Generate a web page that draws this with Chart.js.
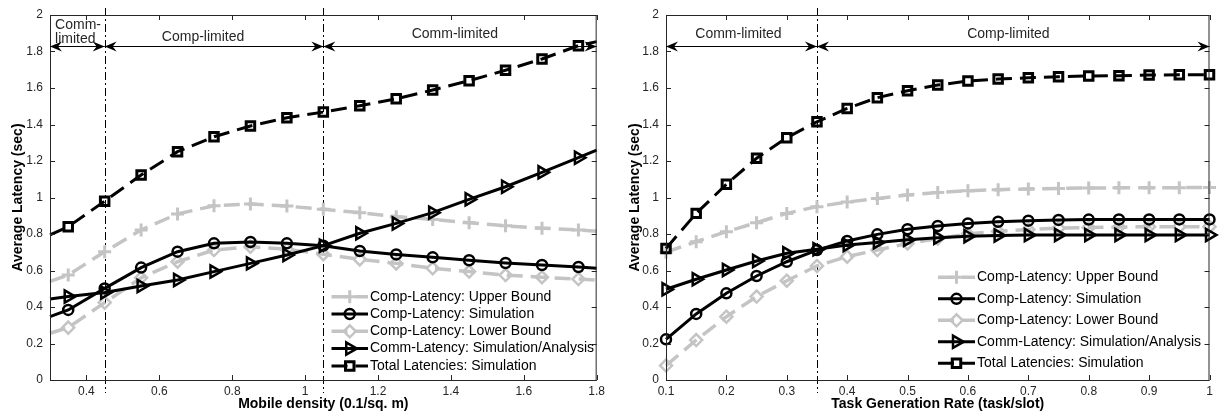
<!DOCTYPE html>
<html>
<head>
<meta charset="utf-8">
<script src="https://cdn.jsdelivr.net/npm/chart.js@4.4.1/dist/chart.umd.min.js"></script>
<style>
html, body { margin: 0; padding: 0; background: #fff; }
#wrap { position: relative; width: 1219px; height: 415px; }
canvas { position: absolute; top: 0; }
</style>
</head>
<body>
<div id="wrap">
  <canvas id="left" width="609" height="415" style="left:0"></canvas>
  <canvas id="right" width="610" height="415" style="left:609px"></canvas>
</div>
<script>
// ---- data ----
const seriesNames = ['Comp-Latency: Upper Bound', 'Comp-Latency: Simulation', 'Comp-Latency: Lower Bound',
                     'Comm-Latency: Simulation/Analysis', 'Total Latencies: Simulation'];
const yTicks = [0, 0.2, 0.4, 0.6, 0.8, 1, 1.2, 1.4, 1.6, 1.8, 2];

// left panel: mobile density
const densityX = [0.3, 0.35, 0.45, 0.55, 0.65, 0.75, 0.85, 0.95, 1.05, 1.15, 1.25, 1.35, 1.45, 1.55, 1.65, 1.75, 1.8];
const densityTicks = [0.4, 0.6, 0.8, 1, 1.2, 1.4, 1.6, 1.8];
const densUpper = [0.54, 0.575, 0.703, 0.822, 0.91, 0.955, 0.964, 0.953, 0.935, 0.917, 0.895, 0.88, 0.862, 0.845, 0.832, 0.822, 0.815];
const densSim   = [0.347, 0.384, 0.502, 0.616, 0.703, 0.749, 0.756, 0.749, 0.736, 0.707, 0.688, 0.672, 0.656, 0.641, 0.63, 0.619, 0.612];
const densLower = [0.256, 0.287, 0.424, 0.56, 0.648, 0.712, 0.73, 0.717, 0.689, 0.661, 0.639, 0.612, 0.594, 0.575, 0.563, 0.553, 0.548];
const densComm  = [0.444, 0.457, 0.48, 0.515, 0.548, 0.594, 0.639, 0.685, 0.736, 0.804, 0.858, 0.917, 0.99, 1.059, 1.138, 1.218, 1.26];
const densTotal = [0.795, 0.84, 0.98, 1.123, 1.251, 1.333, 1.392, 1.437, 1.468, 1.503, 1.541, 1.589, 1.64, 1.697, 1.759, 1.832, 1.854];
const densBounds = [0.45, 1.05];

// right panel: task generation rate
const rateX = [0.1, 0.15, 0.2, 0.25, 0.3, 0.35, 0.4, 0.45, 0.5, 0.55, 0.6, 0.65, 0.7, 0.75, 0.8, 0.85, 0.9, 0.95, 1];
const rateTicks = [0.1, 0.2, 0.3, 0.4, 0.5, 0.6, 0.7, 0.8, 0.9, 1];
const rateUpper = [0.70, 0.758, 0.813, 0.862, 0.913, 0.95, 0.975, 0.995, 1.014, 1.028, 1.037, 1.043, 1.047, 1.05, 1.052, 1.053, 1.054, 1.054, 1.055];
const rateSim   = [0.223, 0.362, 0.475, 0.57, 0.648, 0.712, 0.762, 0.798, 0.826, 0.844, 0.858, 0.867, 0.873, 0.877, 0.879, 0.88, 0.88, 0.88, 0.88];
const rateLower = [0.079, 0.219, 0.347, 0.457, 0.544, 0.625, 0.676, 0.712, 0.748, 0.775, 0.80, 0.815, 0.825, 0.832, 0.836, 0.838, 0.84, 0.84, 0.84];
const rateComm  = [0.497, 0.552, 0.603, 0.652, 0.694, 0.716, 0.74, 0.754, 0.768, 0.78, 0.788, 0.792, 0.794, 0.795, 0.795, 0.795, 0.795, 0.795, 0.795];
const rateTotal = [0.721, 0.913, 1.072, 1.215, 1.328, 1.415, 1.488, 1.547, 1.585, 1.616, 1.638, 1.649, 1.656, 1.662, 1.666, 1.667, 1.671, 1.672, 1.673];
const rateBounds = [0.35];

// ---- look ----
const FONT = "'Liberation Sans', Arial, Helvetica, sans-serif";
const INK = '#262626';
const GRAY = '#c4c4c4';
Chart.defaults.font.family = FONT;
Chart.defaults.color = INK;

const looks = [
  { color: GRAY,   dash: [16, 8], marker: 'cross',    rot: 0,  r: 6.5, w: 3.5, mw: 3,   order: 10 },
  { color: '#000', dash: [],      marker: 'circle',   rot: 0,  r: 5,   w: 3,   mw: 2.5, order: 2 },
  { color: GRAY,   dash: [16, 8], marker: 'rectRot',  rot: 0,  r: 6,   w: 3.5, mw: 2.5, order: 9 },
  { color: '#000', dash: [],      marker: 'triangle', rot: 90, r: 7,   w: 3,   mw: 2.5, order: 3 },
  { color: '#000', dash: [16, 8], marker: 'rect',     rot: 0,  r: 6,   w: 3,   mw: 3,   order: 1 }
];

function buildSets(xs, seriesList, endMarkers) {
  return seriesList.map((ys, i) => {
    const lk = looks[i];
    const last = xs.length - 1;
    return {
      label: seriesNames[i],
      data: xs.map((x, j) => ({ x: x, y: ys[j] })),
      borderColor: lk.color,
      borderWidth: lk.w,
      borderDash: lk.dash,
      backgroundColor: 'rgba(0,0,0,0)',
      pointStyle: lk.marker,
      pointRotation: lk.rot,
      pointRadius: xs.map((x, j) => (!endMarkers && (j === 0 || j === last)) ? 0 : lk.r),
      pointBorderWidth: lk.mw,
      pointBorderColor: lk.color,
      pointBackgroundColor: 'rgba(0,0,0,0)',
      tension: 0,
      clip: false,
      order: lk.order
    };
  });
}

function head(ctx, x, y, dir) {
  ctx.beginPath();
  ctx.moveTo(x, y);
  ctx.lineTo(x - dir * 12, y - 5);
  ctx.lineTo(x - dir * 8, y);
  ctx.lineTo(x - dir * 12, y + 5);
  ctx.closePath();
  ctx.fill();
}

function makeDecor(cfg) {
  return {
    id: 'decor',
    beforeDatasetsDraw(chart) {
      const { ctx, chartArea: a, scales: { x } } = chart;
      ctx.save();
      ctx.strokeStyle = '#000';
      ctx.lineWidth = 1;
      ctx.setLineDash([8, 3, 2, 3]);
      cfg.bounds.forEach(b => {
        const px = Math.round(x.getPixelForValue(b)) + 0.5;
        ctx.beginPath();
        ctx.moveTo(px, a.top - 7);
        ctx.lineTo(px, a.bottom + 13);
        ctx.stroke();
      });
      ctx.restore();
    },
    afterDatasetsDraw(chart) {
      const { ctx, chartArea: a, scales: { x, y } } = chart;
      ctx.save();
      // box + inward ticks on all four sides
      ctx.strokeStyle = INK;
      ctx.lineWidth = 1;
      ctx.setLineDash([]);
      ctx.strokeRect(a.left + 0.5, a.top + 0.5, a.right - a.left - 1, a.bottom - a.top);
      ctx.beginPath();
      x.ticks.forEach(t => {
        const px = Math.round(x.getPixelForValue(t.value)) + 0.5;
        ctx.moveTo(px, a.bottom); ctx.lineTo(px, a.bottom - 5);
        ctx.moveTo(px, a.top); ctx.lineTo(px, a.top + 5);
      });
      y.ticks.forEach(t => {
        const py = Math.round(y.getPixelForValue(t.value)) + 0.5;
        ctx.moveTo(a.left, py); ctx.lineTo(a.left + 5, py);
        ctx.moveTo(a.right, py); ctx.lineTo(a.right - 5, py);
      });
      ctx.stroke();

      // region arrows
      const ay = Math.round(y.getPixelForValue(cfg.arrowY)) + 0.5;
      const stops = [x.min].concat(cfg.bounds, [x.max]);
      ctx.strokeStyle = '#000';
      ctx.fillStyle = '#000';
      for (let i = 0; i < stops.length - 1; i++) {
        const p0 = x.getPixelForValue(stops[i]);
        const p1 = x.getPixelForValue(stops[i + 1]);
        ctx.beginPath();
        ctx.moveTo(p0, ay); ctx.lineTo(p1, ay);
        ctx.stroke();
        head(ctx, p0, ay, -1);
        head(ctx, p1, ay, 1);
      }

      // region labels
      ctx.font = '14px ' + FONT;
      ctx.fillStyle = INK;
      ctx.textBaseline = 'alphabetic';
      cfg.labels.forEach(l => {
        ctx.textAlign = l.align || 'center';
        ctx.fillText(l.text, x.getPixelForValue(l.x), y.getPixelForValue(l.y));
      });

      // legend
      const L = cfg.legend;
      chart.data.datasets.forEach((ds, i) => {
        const lk = looks[i];
        const yy = L.top + i * L.gap;
        ctx.strokeStyle = lk.color;
        ctx.lineWidth = lk.w;
        ctx.setLineDash(lk.dash);
        ctx.beginPath();
        ctx.moveTo(L.x0, yy); ctx.lineTo(L.x1, yy);
        ctx.stroke();
        ctx.setLineDash([]);
        ctx.lineWidth = lk.mw;
        ctx.fillStyle = 'rgba(0,0,0,0)';
        Chart.helpers.drawPoint(ctx, { pointStyle: lk.marker, rotation: lk.rot, radius: lk.r, borderWidth: lk.mw },
          (L.x0 + L.x1) / 2, yy);
        ctx.fillStyle = '#000';
        ctx.font = '14px ' + FONT;
        ctx.textAlign = 'left';
        ctx.textBaseline = 'middle';
        ctx.fillText(ds.label, L.x1 + 2, yy);
      });
      ctx.restore();
    }
  };
}

function makeChart(id, xs, xTicks, seriesList, endMarkers, xTitle, yWidth, yTitlePad, padRight, decorCfg) {
  new Chart(document.getElementById(id), {
    type: 'line',
    data: { datasets: buildSets(xs, seriesList, endMarkers) },
    options: {
      responsive: false,
      animation: false,
      events: [],
      layout: { padding: { top: 15, right: padRight, left: 0, bottom: 0 } },
      plugins: { legend: { display: false }, tooltip: { enabled: false } },
      scales: {
        x: {
          type: 'linear',
          min: xs[0] < xTicks[0] ? xs[0] : xTicks[0],
          max: xs[xs.length - 1],
          afterBuildTicks: s => { s.ticks = xTicks.map(v => ({ value: v })); },
          afterFit: s => { s.height = 35; },
          grid: { display: false, drawTicks: false },
          border: { display: false },
          ticks: { font: { size: 12 }, color: INK, padding: 4, maxRotation: 0,
                   callback: v => String(+v.toFixed(2)) },
          title: { display: true, text: xTitle, font: { size: 14, weight: 'bold' }, color: '#000',
                   padding: { top: 0, bottom: 2 } }
        },
        y: {
          min: 0, max: 2,
          afterBuildTicks: s => { s.ticks = yTicks.map(v => ({ value: v })); },
          afterFit: s => { s.width = yWidth; },
          grid: { display: false, drawTicks: false },
          border: { display: false },
          ticks: { font: { size: 12 }, color: INK, padding: 7,
                   callback: v => String(+v.toFixed(2)) },
          title: { display: true, text: 'Average Latency (sec)', font: { size: 14, weight: 'bold' }, color: '#000',
                   padding: { top: yTitlePad, bottom: 0 } }
        }
      }
    },
    plugins: [makeDecor(decorCfg)]
  });
}

makeChart('left', densityX, densityTicks, [densUpper, densSim, densLower, densComm, densTotal], false,
  'Mobile density (0.1/sq. m)', 50, 10, 6, {
    bounds: densBounds,
    arrowY: 1.83,
    labels: [
      { text: 'Comm-', x: 0.314, y: 1.922, align: 'left' },
      { text: 'limited', x: 0.314, y: 1.845, align: 'left' },
      { text: 'Comp-limited', x: 0.72, y: 1.858 },
      { text: 'Comm-limited', x: 1.411, y: 1.872 }
    ],
    legend: { x0: 331.5, x1: 368, top: 296.7, gap: 17.3 }
  });

makeChart('right', rateX, rateTicks, [rateUpper, rateSim, rateLower, rateComm, rateTotal], true,
  'Task Generation Rate (task/slot)', 57, 17.5, 2, {
    bounds: rateBounds,
    arrowY: 1.83,
    labels: [
      { text: 'Comm-limited', x: 0.22, y: 1.872 },
      { text: 'Comp-limited', x: 0.667, y: 1.872 }
    ],
    legend: { x0: 329, x1: 366, top: 277.3, gap: 21.5 }
  });
</script>
</body>
</html>
